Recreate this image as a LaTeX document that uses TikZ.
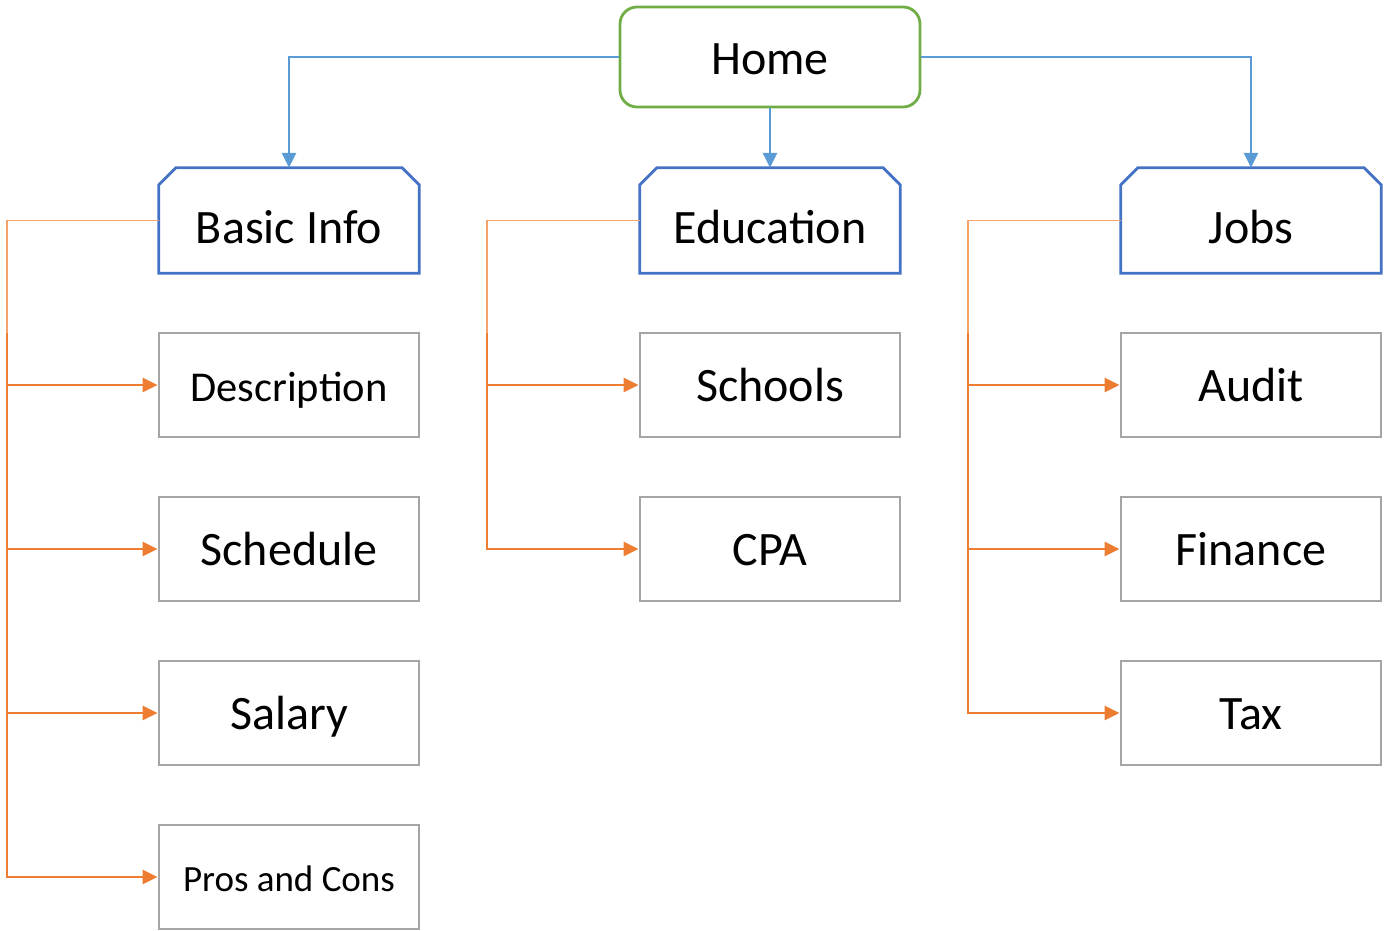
\documentclass[tikz,border=0pt]{standalone}
\usepackage{fontspec}
\setmainfont{Carlito}
\usetikzlibrary{arrows.meta}
\definecolor{homegreen}{HTML}{70AD47}
\definecolor{parentblue}{HTML}{4472C4}
\definecolor{linkblue}{HTML}{5B9BD5}
\definecolor{childgray}{HTML}{A5A5A5}
\definecolor{linkorange}{HTML}{ED7D31}
\definecolor{thinorange}{HTML}{F4A46A}
\tikzset{
  bigtext/.style={font=\fontsize{48}{54}\selectfont},
  homebox/.style={draw=homegreen, line width=2.8pt, rounded corners=17pt, minimum width=300pt, minimum height=100pt, inner sep=0pt, bigtext, text height=35pt, text depth=0pt},
  parentbox/.style={minimum width=260pt, minimum height=105pt, inner sep=0pt, bigtext, text height=45pt, text depth=0pt},
  childbox/.style={draw=childgray, line width=2.8pt, minimum width=260pt, minimum height=104pt, inner sep=0pt, bigtext, text height=33.5pt, text depth=0pt},
  smalltext/.style={font=\fontsize{42.5}{48}\selectfont, text height=32pt, text depth=0pt},
  tinytext/.style={font=\fontsize{37}{42}\selectfont, text height=28pt, text depth=0pt},
  parentline/.style={draw=parentblue, line width=2.8pt},
  bluelink/.style={draw=linkblue, line width=2.8pt, -{Triangle[length=15pt,width=14pt]}},
  orangelink/.style={draw=linkorange, line width=2.8pt, -{Triangle[length=15pt,width=14pt]}},
  thinlink/.style={draw=thinorange, line width=1.3pt},
}
\begin{document}
\begin{tikzpicture}[x=1pt,y=-1pt]
\useasboundingbox (0,0) rectangle (1385,930);
% top
\node[homebox] (home) at (770,57) {Home};
% parents
\node[parentbox] (basic) at (289,220.5) {Basic Info};
\node[parentbox] (edu) at (770,220.5) {Education};
\node[parentbox] (jobs) at (1251,220.5) {Jobs};
\foreach \n in {basic,edu,jobs}{
  \draw[parentline] (\n.south west) -- ([yshift=-17pt]\n.north west) -- ([xshift=17pt]\n.north west) -- ([xshift=-17pt]\n.north east) -- ([yshift=-17pt]\n.north east) -- (\n.south east) -- cycle;
}
% children
\node[childbox,smalltext] (desc) at (289,385) {Description};
\node[childbox] (sched) at (289,549) {Schedule};
\node[childbox] (sal) at (289,713) {Salary};
\node[childbox,tinytext] (pros) at (289,877) {Pros and Cons};
\node[childbox] (schools) at (770,385) {Schools};
\node[childbox] (cpa) at (770,549) {CPA};
\node[childbox] (audit) at (1251,385) {Audit};
\node[childbox] (fin) at (1251,549) {Finance};
\node[childbox] (tax) at (1251,713) {Tax};
% blue links
\draw[bluelink] (home.west) -| (basic.north);
\draw[bluelink] (home.south) -- (edu.north);
\draw[bluelink] (home.east) -| (jobs.north);
% orange buses
\coordinate (lbus) at (7,333);
\coordinate (mbus) at (487,333);
\coordinate (rbus) at (968,333);
\draw[thinlink] (basic.west) -| (lbus);
\draw[thinlink] (edu.west) -| (mbus);
\draw[thinlink] (jobs.west) -| (rbus);
\foreach \c in {desc,sched,sal,pros}{\draw[orangelink] (lbus) |- (\c.west);}
\foreach \c in {schools,cpa}{\draw[orangelink] (mbus) |- (\c.west);}
\foreach \c in {audit,fin,tax}{\draw[orangelink] (rbus) |- (\c.west);}
\end{tikzpicture}
\end{document}
